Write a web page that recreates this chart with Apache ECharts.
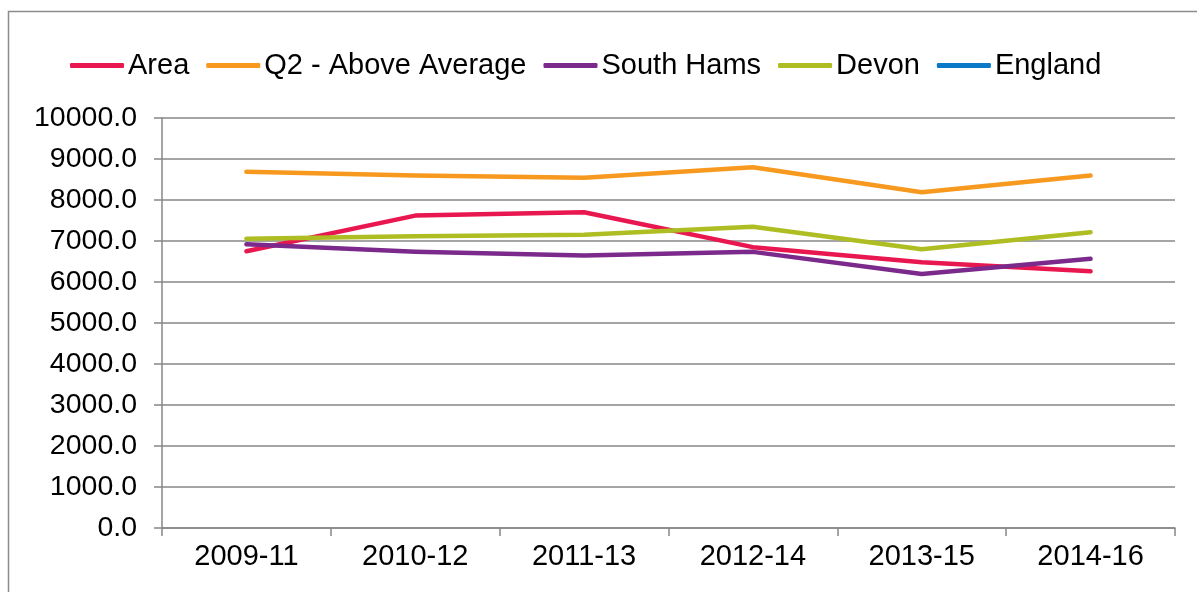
<!DOCTYPE html>
<html>
<head>
<meta charset="utf-8">
<script src="https://cdn.jsdelivr.net/npm/echarts@6/dist/echarts.min.js"></script>
<style>
html,body{margin:0;padding:0;background:#fff;}
#chart{width:1197px;height:592px;}
</style>
</head>
<body>
<div id="chart"></div>
<script>
const categories = ['2009-11','2010-12','2011-13','2012-14','2013-15','2014-16'];
const area = [6750, 7620, 7700, 6850, 6480, 6260];
const q2AboveAverage = [8690, 8600, 8540, 8800, 8190, 8595];
const southHams = [6920, 6740, 6645, 6735, 6195, 6565];
const devon = [7055, 7115, 7155, 7350, 6800, 7215];
const england = [null, null, null, null, null, null];
const seriesNames = ['Area','Q2 - Above Average','South Hams','Devon','England'];
const seriesColors = ['#E8174F','#F7991F','#7B2A8C','#AEBD21','#0A7AC8'];
const seriesData = [area, q2AboveAverage, southHams, devon, england];

const FONT = 'Liberation Sans, Arial, sans-serif';
const chart = echarts.init(document.getElementById('chart'), null, {renderer:'canvas'});
chart.setOption({
  animation: false,
  backgroundColor: '#fff',
  graphic: [{
    type: 'rect', silent: true, z: -1,
    shape: {x: 8.5, y: 11.5, width: 1300, height: 700},
    style: {fill: 'none', stroke: '#8c8c8c', lineWidth: 1.5}
  }],
  legend: {
    top: 46, left: 65,
    itemWidth: 54, itemHeight: 5, itemGap: 17,
    icon: 'roundRect',
    textStyle: {fontFamily: FONT, fontSize: 29, color: '#000', padding: [0,0,0,-1]},
    data: seriesNames
  },
  grid: {left: 162, right: 22, top: 118, bottom: 64, containLabel: false},
  xAxis: {
    type: 'category', data: categories, boundaryGap: true,
    axisLine: {lineStyle: {color: '#878787', width: 1.5}},
    axisTick: {show: true, length: 8, lineStyle: {color: '#878787', width: 1.5}},
    axisLabel: {fontFamily: FONT, fontSize: 29, color: '#000', margin: 14}
  },
  yAxis: {
    type: 'value', min: 0, max: 10000, interval: 1000,
    axisLine: {show: true, lineStyle: {color: '#878787', width: 1.5}},
    axisTick: {show: true, length: 8, lineStyle: {color: '#878787', width: 1.5}},
    splitLine: {lineStyle: {color: '#878787', width: 1.5}},
    axisLabel: {fontFamily: FONT, fontSize: 28.5, color: '#000', margin: 25,
      formatter: v => v.toFixed(1)}
  },
  series: seriesNames.map((n, i) => ({
    name: n, type: 'line', data: seriesData[i],
    showSymbol: false, symbol: 'none',
    itemStyle: {color: seriesColors[i]},
    lineStyle: {color: seriesColors[i], width: 4.5, cap: 'round', join: 'round'}
  }))
});
</script>
</body>
</html>
